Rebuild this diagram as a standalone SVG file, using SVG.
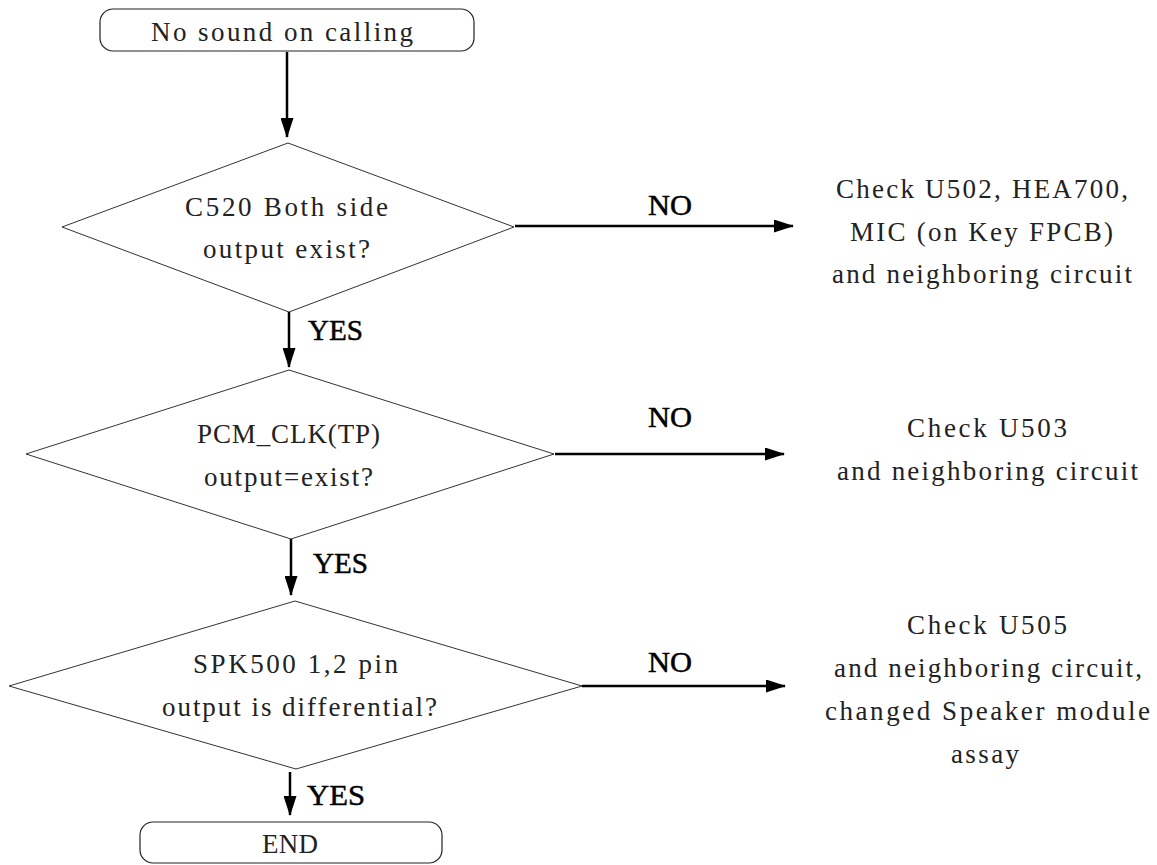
<svg xmlns="http://www.w3.org/2000/svg" width="1157" height="865" viewBox="0 0 1157 865">
<style>
.box{fill:#fff;stroke:#222;stroke-width:1.2}
.dia{fill:#fff;stroke:#333;stroke-width:1}
.t{font-family:"Liberation Serif","Times New Roman",serif;font-size:27px;fill:#222}
.lbl{font-family:"Liberation Serif","Times New Roman",serif;font-size:30px;fill:#000;stroke:#000;stroke-width:0.5}
.ln{stroke:#000;stroke-width:2.5;fill:none;marker-end:url(#ah)}
</style>
<defs>
<marker id="ah" markerUnits="userSpaceOnUse" markerWidth="20" markerHeight="13" refX="19" refY="6.5" orient="auto">
<path d="M0,0 L20,6.5 L0,13 z" fill="#000"/>
</marker>
</defs>
<rect width="1157" height="865" fill="#fff"/>

<g id="start">
<rect class="box" x="100" y="9" width="374" height="42" rx="13"/>
<text class="t" x="151" y="41" textLength="262" lengthAdjust="spacing">No sound on calling</text>
</g>

<g id="d1">
<polygon class="dia" points="288,143 514,227 289,312 62,227"/>
<text class="t" x="185" y="216" textLength="203" lengthAdjust="spacing">C520 Both side</text>
<text class="t" x="203" y="258" textLength="167" lengthAdjust="spacing">output exist?</text>
</g>

<g id="r1">
<text class="t" x="836" y="198" textLength="292" lengthAdjust="spacing">Check U502, HEA700,</text>
<text class="t" x="850" y="241" textLength="263" lengthAdjust="spacing">MIC (on Key FPCB)</text>
<text class="t" x="832" y="283" textLength="300" lengthAdjust="spacing">and neighboring circuit</text>
</g>

<g id="d2">
<polygon class="dia" points="289,370 554,454 291,539 26,454"/>
<text class="t" x="197" y="443" textLength="183" lengthAdjust="spacing">PCM_CLK(TP)</text>
<text class="t" x="204" y="486" textLength="169" lengthAdjust="spacing">output=exist?</text>
</g>

<g id="r2">
<text class="t" x="907" y="437" textLength="160" lengthAdjust="spacing">Check U503</text>
<text class="t" x="837" y="480" textLength="301" lengthAdjust="spacing">and neighboring circuit</text>
</g>

<g id="d3">
<polygon class="dia" points="295,601 582,686 296,769 9,686"/>
<text class="t" x="193" y="673" textLength="205" lengthAdjust="spacing">SPK500 1,2 pin</text>
<text class="t" x="162" y="716" textLength="275" lengthAdjust="spacing">output is differential?</text>
</g>

<g id="r3">
<text class="t" x="907" y="634" textLength="160" lengthAdjust="spacing">Check U505</text>
<text class="t" x="834" y="677" textLength="308" lengthAdjust="spacing">and neighboring circuit,</text>
<text class="t" x="825" y="720" textLength="325" lengthAdjust="spacing">changed Speaker module</text>
<text class="t" x="951" y="763" textLength="68" lengthAdjust="spacing">assay</text>
</g>

<g id="end">
<rect class="box" x="140" y="822" width="302" height="41" rx="13"/>
<text class="t" x="262" y="853" textLength="56" lengthAdjust="spacing">END</text>
</g>

<g id="connectors">
<line class="ln" x1="287" y1="52" x2="287" y2="137"/>
<line class="ln" x1="289" y1="312" x2="289" y2="367"/>
<line class="ln" x1="291" y1="539" x2="291" y2="595"/>
<line class="ln" x1="290" y1="772" x2="290" y2="815"/>
<line class="ln" x1="515" y1="226" x2="793" y2="226"/>
<line class="ln" x1="555" y1="454" x2="784" y2="454"/>
<line class="ln" x1="582" y1="686" x2="785" y2="686"/>
<text class="lbl" x="308" y="340" textLength="55" lengthAdjust="spacingAndGlyphs">YES</text>
<text class="lbl" x="313" y="573" textLength="55" lengthAdjust="spacingAndGlyphs">YES</text>
<text class="lbl" x="307" y="805" textLength="58" lengthAdjust="spacingAndGlyphs">YES</text>
<text class="lbl" x="648" y="215" textLength="44" lengthAdjust="spacingAndGlyphs">NO</text>
<text class="lbl" x="648" y="427" textLength="44" lengthAdjust="spacingAndGlyphs">NO</text>
<text class="lbl" x="648" y="672" textLength="44" lengthAdjust="spacingAndGlyphs">NO</text>
</g>
</svg>
